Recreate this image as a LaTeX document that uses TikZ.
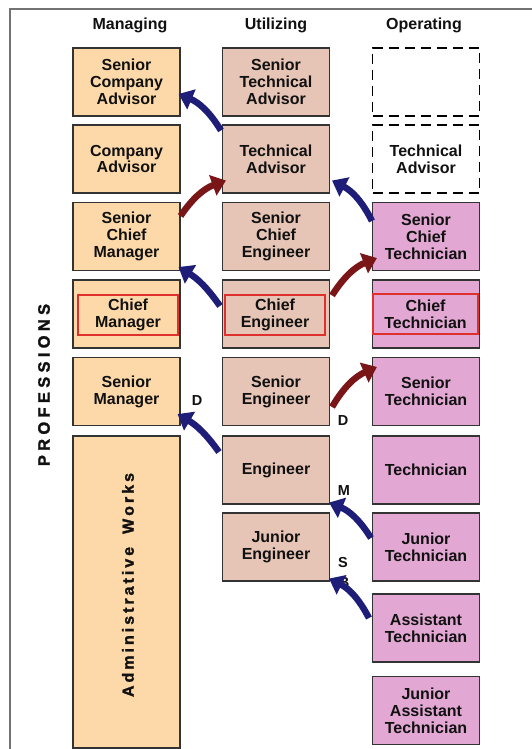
\documentclass[tikz,border=0pt]{standalone}
\usepackage{fontspec}
\setmainfont{Liberation Sans}
\newfontfamily\heavy[FakeBold=1.6]{Liberation Sans Bold}
\usetikzlibrary{arrows.meta}
\definecolor{mgfill}{HTML}{FDD9AA}
\definecolor{utfill}{HTML}{E6C4B6}
\definecolor{opfill}{HTML}{E2A8D3}
\definecolor{bluearr}{HTML}{1E1E78}
\definecolor{redarr}{HTML}{7A1518}
\definecolor{redbox}{HTML}{E0302C}
\definecolor{txt}{HTML}{111111}
\tikzset{
  base/.style={minimum width=107pt, minimum height=68pt, inner sep=0pt, draw=black!80, line width=1.1pt,
    align=center, text=txt, font=\fontsize{16}{16.8}\selectfont\bfseries},
  mg/.style={base, fill=mgfill},
  ut/.style={base, fill=utfill},
  op/.style={base, fill=opfill},
  dbox/.style={base, fill=white, draw=black, dash pattern=on 10pt off 6pt},
  redframe/.style={minimum height=40pt, inner sep=0pt, draw=redbox, line width=2pt,
    align=center, text=txt, font=\fontsize{16}{16.8}\selectfont\bfseries},
  header/.style={text=txt, font=\fontsize{16}{16}\selectfont\bfseries},
  lbl/.style={text=txt, font=\fontsize{14.5}{14.5}\selectfont\bfseries, inner sep=0pt},
  sidetext/.style={text=txt, rotate=90, inner sep=0pt},
  barrow/.style={draw=bluearr, line width=6.5pt, -{Triangle[length=14pt,width=21pt]}},
  rarrow/.style={draw=redarr, line width=6.5pt, -{Triangle[length=14pt,width=21pt]}},
}
\begin{document}
\begin{tikzpicture}[x=1pt,y=1pt]
\useasboundingbox (0,0) rectangle (532,-749);
\fill[white] (0,0) rectangle (532,-749);
\draw[black!55, line width=1.5pt] (532,-9) -- (10,-9) -- (10,-749);

% headers
\node[header] (hm) at (130,-25) {Managing};
\node[header] (hu) at (276,-25) {Utilizing};
\node[header] (ho) at (424,-25) {Operating};

% side label
\node[sidetext, font=\fontsize{16.5}{16.5}\heavy] (prof) at (44,-385)
  {P\kern4.3pt R\kern4.3pt O\kern4.3pt F\kern4.3pt E\kern4.3pt S\kern4.3pt S\kern4.3pt I\kern4.3pt O\kern4.3pt N\kern4.3pt S};

% Managing column
\node[mg] (sca) at (126.5,-82) {Senior\\Company\\Advisor};
\node[mg] (ca) at (126.5,-159) {Company\\Advisor};
\node[mg] (scm) at (126.5,-236.5) {Senior\\Chief\\Manager};
\node[mg] (cm) at (126.5,-314) {};
\node[redframe, minimum width=100pt] (cmr) at (128,-315) {Chief\\Manager};
\node[mg] (sm) at (126.5,-391.5) {Senior\\Manager};
\node[mg, minimum height=312pt] (adm) at (126.5,-592) {};
\node[sidetext, font=\fontsize{16}{16}\heavy] (admt) at (128,-585)
  {A\kern3pt d\kern3pt m\kern3pt i\kern3pt n\kern3pt i\kern3pt s\kern3pt t\kern3pt r\kern3pt a\kern3pt t\kern3pt i\kern3pt v\kern3pt e\kern13pt W\kern3pt o\kern3pt r\kern3pt k\kern3pt s};

% Utilizing column
\node[ut] (sta) at (276,-82) {Senior\\Technical\\Advisor};
\node[ut] (ta) at (276,-159) {Technical\\Advisor};
\node[ut] (sce) at (276,-236.5) {Senior\\Chief\\Engineer};
\node[ut] (ce) at (276,-314) {};
\node[redframe, minimum width=100pt] (cer) at (275,-315) {Chief\\Engineer};
\node[ut] (se) at (276,-391.5) {Senior\\Engineer};
\node[ut] (eng) at (276,-470) {Engineer};
\node[ut] (je) at (276,-547) {Junior\\Engineer};

% Operating column
\node[dbox] (d1) at (426,-82) {};
\node[dbox] (dta) at (426,-159) {Technical\\Advisor};
\node[op] (sct) at (426,-236.5) {Senior\\Chief\\Technician};
\node[op] (ct) at (426,-314) {};
\node[redframe, minimum width=105pt] (ctr) at (425.5,-314) {Chief\\Technician};
\node[op] (st) at (426,-391.5) {Senior\\Technician};
\node[op] (tech) at (426,-470) {Technician};
\node[op] (jt) at (426,-547) {Junior\\Technician};
\node[op] (at) at (426,-628) {Assistant\\Technician};
\node[op] (jat) at (426,-710.5) {Junior\\Assistant\\Technician};

% letters
\node[lbl] (l1) at (197,-401) {D};
\node[lbl] (l2) at (343,-421) {D};
\node[lbl] (l3) at (344,-491) {M};
\node[lbl] (l4) at (343,-563) {S};
\node[lbl] (l5) at (344,-583) {B};

% blue arrows
\draw[barrow] ([shift={(-1,-6)}]ta.north west) to[bend right=18] ([shift={(-2,-12)}]sca.east);
\draw[barrow] ([shift={(0,-19)}]sct.north west) to[bend right=18] ([shift={(2,13)}]ta.south east);
\draw[barrow] ([shift={(-2,8)}]ce.west) to[bend right=12] ([shift={(-2,4)}]scm.south east);
\draw[barrow] ([shift={(-3,18)}]eng.west) to[bend right=12] ([shift={(-3,12)}]sm.south east);
\draw[barrow] ([shift={(-1,9)}]jt.west) to[bend right=18] ([shift={(-1,2)}]eng.south east);
\draw[barrow] ([shift={(-3,10)}]at.west) to[bend right=18] ([shift={(-1,3)}]je.south east);

% red arrows
\draw[rarrow] ([shift={(0,-14)}]scm.north east) to[bend left=18] ([shift={(4,13)}]ta.south west);
\draw[rarrow] ([shift={(2,-16)}]ce.north east) to[bend left=18] ([shift={(5,13)}]sct.south west);
\draw[rarrow] ([shift={(2,-15.5)}]se.east) to[bend left=18] ([shift={(5,-10)}]st.north west);
\end{tikzpicture}
\end{document}
